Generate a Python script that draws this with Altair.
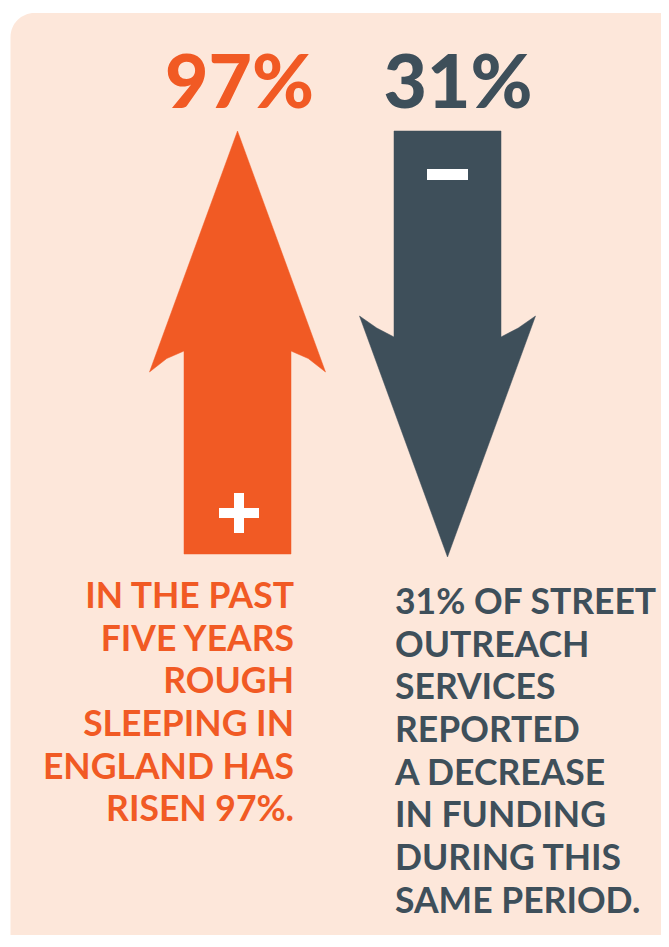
import altair as alt
import pandas as pd

# ---- content ----
value_labels = ["97%", "31%"]
directions = ["up", "down"]
signs = ["+", "-"]
left_lines = ["IN THE PAST", "FIVE YEARS", "ROUGH", "SLEEPING IN",
              "ENGLAND HAS", "RISEN 97%."]
right_lines = ["31% OF STREET", "OUTREACH", "SERVICES", "REPORTED",
               "A DECREASE", "IN FUNDING", "DURING THIS", "SAME PERIOD."]

ORANGE = "#F15A24"
SLATE = "#3E4F5A"
BG = "#FDE7DA"
FONT = "Lato"
BODY_FONT = "Lato"

# ---- layout (page pixel space) ----
X0, X1 = 8, 661
Y0, Y1 = 8, 935
W, H = X1 - X0, Y1 - Y0
xs = alt.Scale(domain=[X0, X1], nice=False, zero=False)
ys = alt.Scale(domain=[Y0, Y1], reverse=True, nice=False, zero=False)
NOAX = dict(axis=None)


def arrow(cx, tip, barb, notch, base, shaft_w, head_w, bulge):
    s = 1 if base > tip else -1  # +1: pointing up (tip above base)
    hs, hh = shaft_w / 2, head_w / 2
    midx = (hs + hh) / 2
    midy = (barb + notch) / 2 - s * bulge
    pts = [(cx, tip), (cx + hh, barb), (cx + midx, midy), (cx + hs, notch),
           (cx + hs, base), (cx - hs, base), (cx - hs, notch),
           (cx - midx, midy), (cx - hh, barb)]
    return pd.DataFrame({"x": [p[0] for p in pts], "y": [p[1] for p in pts],
                         "o": list(range(len(pts)))})


arrows = {
    "up": dict(cx=237.5, tip=131, barb=372, notch=351, base=554,
               shaft_w=107, head_w=176, bulge=3),
    "down": dict(cx=447.5, tip=557, barb=316, notch=337, base=131,
                 shaft_w=107, head_w=176, bulge=1.5),
}
colors = {"up": ORANGE, "down": SLATE}

bg = alt.Chart(pd.DataFrame({"x": [10.5], "x2": [700], "y": [13], "y2": [1000]})).mark_rect(
    color=BG, cornerRadius=24, clip=True
).encode(x=alt.X("x:Q", scale=xs, **NOAX), x2="x2:Q",
         y=alt.Y("y:Q", scale=ys, **NOAX), y2="y2:Q")

layers = [bg]
for d in directions:
    df = arrow(**arrows[d])
    layers.append(
        alt.Chart(df).mark_line(interpolate="linear-closed", color=colors[d],
                                fill=colors[d], strokeWidth=0.5)
        .encode(x=alt.X("x:Q", scale=xs, **NOAX),
                y=alt.Y("y:Q", scale=ys, **NOAX), order="o:Q")
    )

# plus / minus signs
sign_rows = []
pcx, pcy, arm, th = 239, 513, 40, 10
sign_rows.append(dict(x=pcx - arm / 2, x2=pcx + arm / 2, y=pcy - th / 2, y2=pcy + th / 2))
sign_rows.append(dict(x=pcx - th / 2, x2=pcx + th / 2, y=pcy - arm / 2, y2=pcy + arm / 2))
mcx, mcy, marm, mth = 447.5, 174.5, 41, 11
sign_rows.append(dict(x=mcx - marm / 2, x2=mcx + marm / 2, y=mcy - mth / 2, y2=mcy + mth / 2))
layers.append(
    alt.Chart(pd.DataFrame(sign_rows)).mark_rect(color="white")
    .encode(x=alt.X("x:Q", scale=xs, **NOAX), x2="x2:Q",
            y=alt.Y("y:Q", scale=ys, **NOAX), y2="y2:Q")
)

# big numbers
num_df = pd.DataFrame({"label": value_labels,
                       "x": [239.5, 458],
                       "y": [108, 108], "c": [colors[d] for d in directions]})
layers.append(
    alt.Chart(num_df).mark_text(font=FONT, fontWeight=900, fontSize=75,
                                align="center", baseline="alphabetic")
    .encode(x=alt.X("x:Q", scale=xs, **NOAX), y=alt.Y("y:Q", scale=ys, **NOAX),
            text="label:N", color=alt.Color("c:N", scale=None))
)

# text blocks
LH = 42.65
FS = 35.5
left_df = pd.DataFrame({"t": left_lines, "i": range(len(left_lines))})
layers.append(
    alt.Chart(left_df).transform_calculate(x="294", y=f"608 + datum.i * {LH}")
    .mark_text(font=BODY_FONT, fontWeight="bold", fontSize=FS, align="right",
               baseline="alphabetic", color=ORANGE)
    .encode(x=alt.X("x:Q", scale=xs, **NOAX), y=alt.Y("y:Q", scale=ys, **NOAX), text="t:N")
)
right_df = pd.DataFrame({"t": right_lines, "i": range(len(right_lines))})
layers.append(
    alt.Chart(right_df).transform_calculate(x="395", y=f"614 + datum.i * {LH}")
    .mark_text(font=BODY_FONT, fontWeight="bold", fontSize=FS, align="left",
               baseline="alphabetic", color=SLATE)
    .encode(x=alt.X("x:Q", scale=xs, **NOAX), y=alt.Y("y:Q", scale=ys, **NOAX), text="t:N")
)

chart = alt.layer(*layers).properties(
    width=W, height=H, padding=0, autosize=alt.AutoSizeParams(type="none"),
    background="white"
).configure_view(stroke=None)

chart.save("out.html", embed_options={"renderer": "svg", "actions": False})
